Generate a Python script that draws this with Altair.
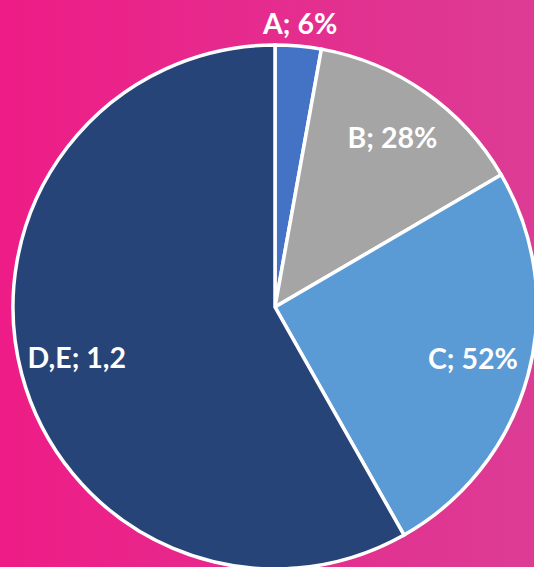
import altair as alt
import pandas as pd

categories = ["A", "B", "C", "D,E"]
values = [10.2, 49.5, 90.8, 209.5]
labels = ["A; 6%", "B; 28%", "C; 52%", "D,E; 1,2"]
colors = ["#4472C4", "#A5A5A5", "#5B9BD5", "#264478"]

df = pd.DataFrame({
    "cat": categories,
    "value": values,
    "label": labels,
    "order": list(range(len(categories))),
})

W, H = 534, 567
CX, CY, R = 275, 307, 262

base = alt.Chart(df)

bg = alt.Chart(pd.DataFrame({"k": [0]})).mark_rect(
    color=alt.LinearGradient(
        gradient="linear",
        stops=[alt.GradientStop(color="#EE1C86", offset=0),
               alt.GradientStop(color="#DC3C95", offset=1)],
        x1=0, x2=1, y1=0, y2=0,
    )
).encode(x=alt.value(0), x2=alt.value(W), y=alt.value(0), y2=alt.value(H))

theta = alt.Theta("value:Q", stack=True)
order = alt.Order("order:Q")

pie = base.mark_arc(radius=R, stroke="white", strokeWidth=3.5).encode(
    theta=theta,
    order=order,
    color=alt.Color("cat:N", scale=alt.Scale(domain=categories, range=colors), legend=None),
    x=alt.value(CX), y=alt.value(CY),
)

text_style = dict(font="Lato", fontWeight="bold", fontSize=28.5, color="white",
                  align="center", baseline="middle")

inner = base.transform_calculate(
    t="datum.cat == 'A' ? '' : datum.label"
).mark_text(radius=205, **text_style).encode(
    theta=theta, order=order, text="t:N", x=alt.value(CX), y=alt.value(CY),
)

outer = base.transform_calculate(
    t="datum.cat == 'A' ? datum.label : ''"
).mark_text(radius=283, **text_style).encode(
    theta=theta, order=order, text="t:N", x=alt.value(CX), y=alt.value(CY),
)

chart = alt.layer(bg, pie, inner, outer).properties(
    width=W, height=H, padding=0,
    autosize=alt.AutoSizeParams(type="none"),
).configure_view(stroke=None).configure(background="#E82A8C")

chart.save("out.html", embed_options={"renderer": "svg", "actions": False})
